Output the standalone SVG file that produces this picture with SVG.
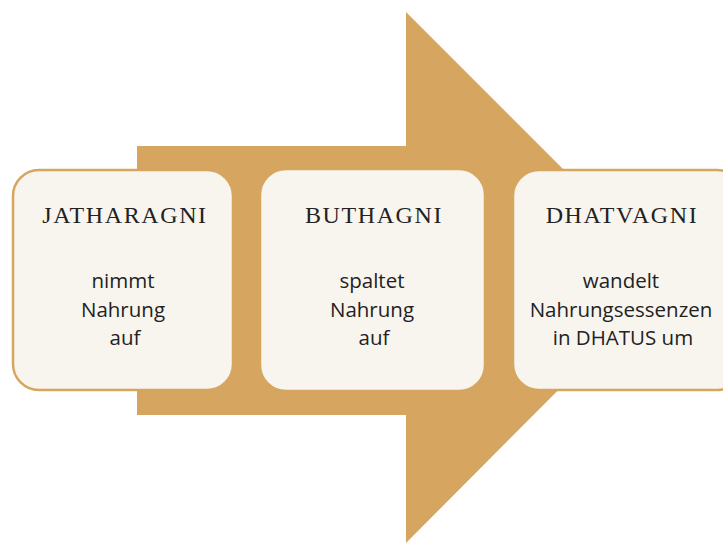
<svg xmlns="http://www.w3.org/2000/svg" width="723" height="545" viewBox="0 0 723 545">
<style>
.arrow{fill:#D6A661}
.box{fill:#F8F5EF;stroke:#D6A661;stroke-width:2.5}
.title{font-family:"Liberation Serif",serif;font-size:24px;fill:#222;text-anchor:middle;letter-spacing:1.6px}
.body{font-family:"Open Sans","Liberation Sans",sans-serif;font-size:20.5px;fill:#222;text-anchor:middle}
</style>
<rect width="723" height="545" fill="#fff"/>
<g id="connectors">
<path class="arrow" d="M137,146 H406 V12 L671,277 L406,543 V415 H137 Z"/>
</g>
<g id="jatharagni">
<rect class="box" x="13" y="170" width="220" height="220" rx="26"/>
<text class="title" x="125" y="223">JATHARAGNI</text>
<text class="body" x="123" y="288">nimmt</text>
<text class="body" x="123" y="317">Nahrung</text>
<text class="body" x="125" y="345">auf</text>
</g>
<g id="buthagni">
<rect class="box" x="260" y="169" width="225" height="222" rx="26"/>
<text class="title" x="374" y="223">BUTHAGNI</text>
<text class="body" x="372" y="288">spaltet</text>
<text class="body" x="372" y="317">Nahrung</text>
<text class="body" x="374" y="345">auf</text>
</g>
<g id="dhatvagni">
<rect class="box" x="513" y="170" width="230" height="220" rx="26"/>
<text class="title" x="622" y="223">DHATVAGNI</text>
<text class="body" x="621" y="288">wandelt</text>
<text class="body" x="621" y="317">Nahrungsessenzen</text>
<text class="body" x="623" y="345">in DHATUS um</text>
</g>
</svg>
